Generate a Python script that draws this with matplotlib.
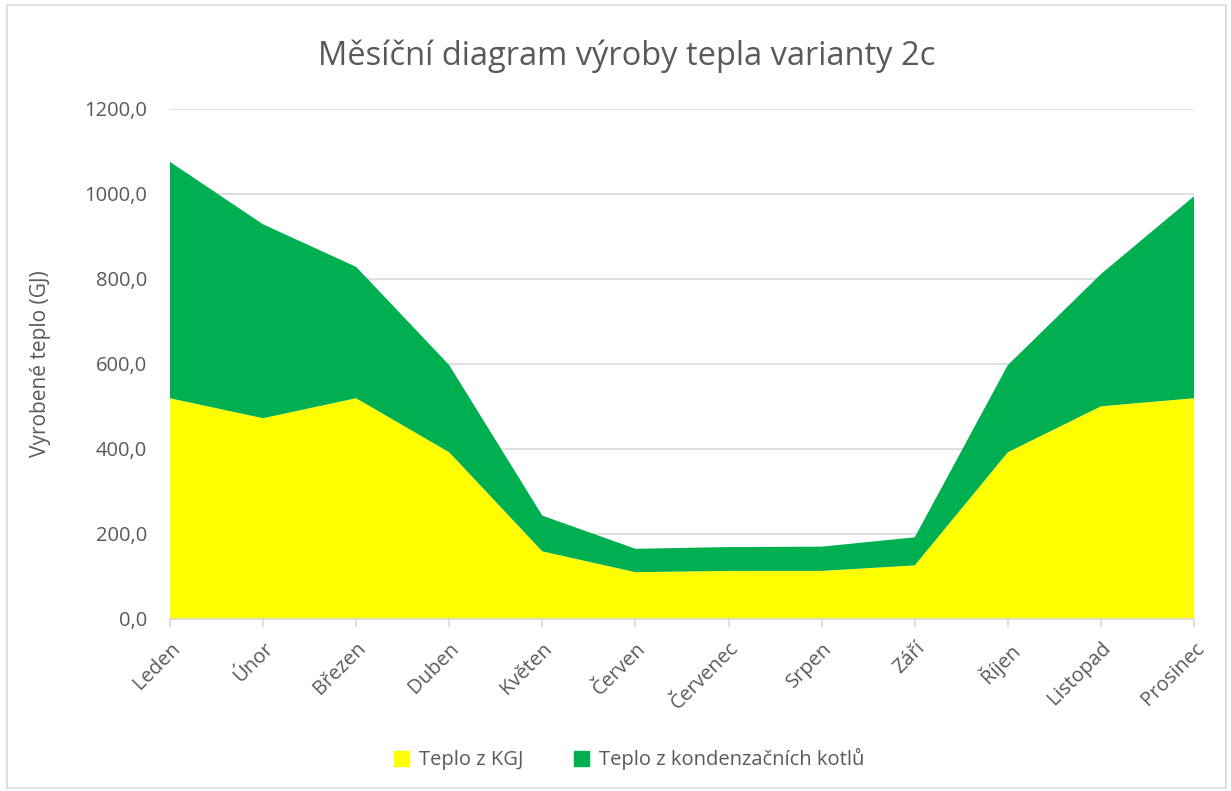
import matplotlib
matplotlib.use("Agg")
import matplotlib.pyplot as plt
import numpy as np
from matplotlib.patches import Rectangle, Patch

months = ["Leden", "Únor", "Březen", "Duben", "Květen", "Červen", "Červenec",
          "Srpen", "Září", "Říjen", "Listopad", "Prosinec"]
teplo_kgj = [519, 472, 519, 392, 159, 110, 113, 113, 126, 392, 500, 519]
teplo_kotle = [556, 456, 309, 205, 84, 55, 56, 57, 66, 205, 311, 475]
yticks = [0, 200, 400, 600, 800, 1000, 1200]

plt.rcParams['font.family'] = ['Open Sans', 'DejaVu Sans']
gray = '#595959'

fig = plt.figure(figsize=(12.31, 7.91), dpi=100)
ax = fig.add_axes([0.138, 0.2175, 0.832, 0.6452])

x = np.arange(len(months))
ax.stackplot(x, teplo_kgj, teplo_kotle, colors=['#ffff00', '#00b050'],
             labels=['Teplo z KGJ', 'Teplo z kondenzačních kotlů'], zorder=2)

ax.set_xlim(0, len(months) - 1)
ax.set_ylim(0, 1200)
ax.set_yticks(yticks)
ax.set_yticklabels([f"{v:.1f}".replace('.', ',') for v in yticks], color=gray, fontsize=14.5)
ax.set_xticks(x)
ax.set_xticklabels(months, rotation=45, ha='right', rotation_mode='anchor',
                   color=gray, fontsize=14.5)
ax.tick_params(axis='y', length=0, pad=16.5)
ax.tick_params(axis='x', length=6, color='#d9d9d9', width=1.2, pad=8)
ax.grid(axis='y', color='#d9d9d9', linewidth=1.2, zorder=0)
ax.set_axisbelow(True)
for s in ['top', 'right', 'left']:
    ax.spines[s].set_visible(False)
ax.spines['bottom'].set_color('#d9d9d9')
ax.spines['bottom'].set_linewidth(1.2)

ax.set_ylabel("Vyrobené teplo (GJ)", color=gray, fontsize=15, labelpad=24)
fig.text(0.509, 0.929, "Měsíční diagram výroby tepla varianty 2c", ha='center', va='center',
         color=gray, fontsize=23.5)

handles = [Patch(color='#ffff00'), Patch(color='#00b050')]
fig.legend(handles, ['Teplo z KGJ', 'Teplo z kondenzačních kotlů'], loc='center',
           bbox_to_anchor=(0.511, 0.04), ncol=2, frameon=False, fontsize=14.5,
           handlelength=0.75, handleheight=0.75, handletextpad=0.5, columnspacing=2.5,
           labelcolor=gray)

fig.patches.append(Rectangle((0.006, 0.004), 0.99, 0.99, transform=fig.transFigure,
                             fill=False, edgecolor='#d9d9d9', linewidth=1.2))

fig.savefig("out.png", dpi=100)
